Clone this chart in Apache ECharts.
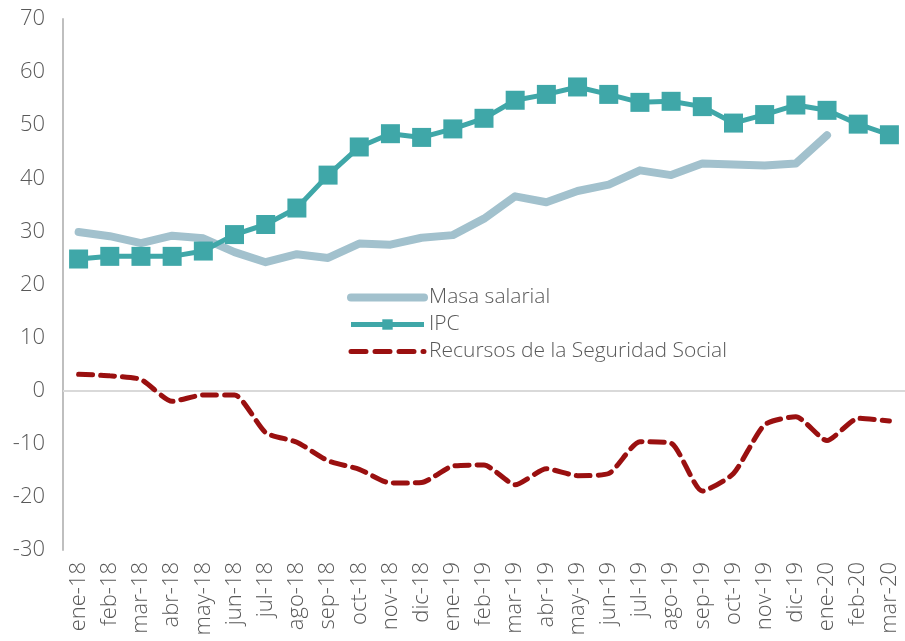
<!DOCTYPE html>
<html>
<head>
<meta charset="utf-8">
<script src="https://cdn.jsdelivr.net/npm/echarts@6/dist/echarts.min.js"></script>
<style>
  html, body { margin: 0; padding: 0; background: #ffffff; }
  #chart { width: 905px; height: 641px; }
</style>
</head>
<body>
<div id="chart"></div>
<script>
// categorías mensuales
const meses = ['ene-18', 'feb-18', 'mar-18', 'abr-18', 'may-18', 'jun-18', 'jul-18', 'ago-18', 'sep-18',
  'oct-18', 'nov-18', 'dic-18', 'ene-19', 'feb-19', 'mar-19', 'abr-19', 'may-19', 'jun-19', 'jul-19',
  'ago-19', 'sep-19', 'oct-19', 'nov-19', 'dic-19', 'ene-20', 'feb-20', 'mar-20'];

const masaSalarial = [29.9, 29.1, 27.8, 29.2, 28.7, 26.1, 24.2, 25.7, 25.0, 27.7, 27.5, 28.8, 29.3,
  32.4, 36.6, 35.5, 37.6, 38.8, 41.5, 40.6, 42.8, 42.6, 42.4, 42.8, 48.1, null, null];

const ipc = [24.8, 25.3, 25.3, 25.3, 26.3, 29.4, 31.3, 34.4, 40.6, 45.9, 48.4, 47.7, 49.3,
  51.3, 54.7, 55.8, 57.2, 55.8, 54.3, 54.5, 53.5, 50.4, 52.0, 53.8, 52.8, 50.2, 48.2];

const recursosSS = [3.1, 2.8, 2.1, -2.0, -0.8, -0.8, -7.9, -9.7, -13.2, -14.8, -17.4, -17.3, -14.2,
  -14.0, -17.7, -14.7, -16.0, -15.6, -9.6, -9.9, -18.9, -15.6, -6.4, -4.9, -9.4, -5.2, -5.7];

const ejeY = { min: -30, max: 70, intervalo: 10 };

const fuente = '"Open Sans", Lato, sans-serif';
const colorTexto = '#595959';
const cMasa = '#A2C1CD';
const cIpc = '#3FA7A8';
const cRecursos = '#9A1010';

let chart = echarts.init(document.getElementById('chart'));
let option = {
  animation: false,
  grid: { left: 63, right: -6, top: 19, bottom: 91 },
  legend: {
    orient: 'vertical',
    left: 342,
    top: 282,
    itemWidth: 73,
    itemHeight: 13,
    itemGap: 6,
    textStyle: { color: colorTexto, fontSize: 21, fontFamily: fuente, fontWeight: 300 },
    data: [
      { name: 'Masa salarial', itemStyle: { opacity: 0 }, lineStyle: { width: 8, color: cMasa, cap: 'round' } },
      { name: 'IPC', lineStyle: { width: 5, color: cIpc } },
      { name: 'Recursos de la Seguridad Social', itemStyle: { opacity: 0 },
        lineStyle: { width: 5, color: cRecursos, type: [15, 9], cap: 'round' } }
    ]
  },
  xAxis: {
    type: 'category',
    data: meses,
    boundaryGap: true,
    axisLine: { show: false, onZero: false },
    axisTick: { show: false },
    axisLabel: {
      rotate: 90,
      interval: 0,
      margin: 12,
      color: colorTexto,
      fontSize: 22,
      fontWeight: 300,
      fontFamily: fuente
    }
  },
  yAxis: {
    type: 'value',
    min: ejeY.min,
    max: ejeY.max,
    interval: ejeY.intervalo,
    axisLine: { show: true, lineStyle: { color: '#BFBFBF', width: 2 } },
    axisTick: { show: false },
    splitLine: { show: false },
    axisLabel: { color: colorTexto, fontSize: 22, fontWeight: 300, fontFamily: fuente, margin: 18 }
  },
  series: [
    {
      name: 'Masa salarial',
      type: 'line',
      data: masaSalarial,
      symbol: 'none',
      color: cMasa,
      lineStyle: { width: 8, color: cMasa, cap: 'round', join: 'round' },
      z: 2,
      markLine: {
        silent: true,
        symbol: 'none',
        label: { show: false },
        lineStyle: { color: '#D9D9D9', width: 2, type: 'solid' },
        data: [{ yAxis: 0 }],
        z: 1
      }
    },
    {
      name: 'IPC',
      type: 'line',
      data: ipc,
      symbol: 'rect',
      symbolSize: 19,
      color: cIpc,
      itemStyle: { color: cIpc },
      lineStyle: { width: 5, color: cIpc },
      z: 3
    },
    {
      name: 'Recursos de la Seguridad Social',
      type: 'line',
      data: recursosSS,
      smooth: 0.2,
      symbol: 'none',
      color: cRecursos,
      lineStyle: { width: 5, color: cRecursos, type: [14, 8], cap: 'round' },
      z: 4
    }
  ]
};
option && chart.setOption(option);
</script>
</body>
</html>
